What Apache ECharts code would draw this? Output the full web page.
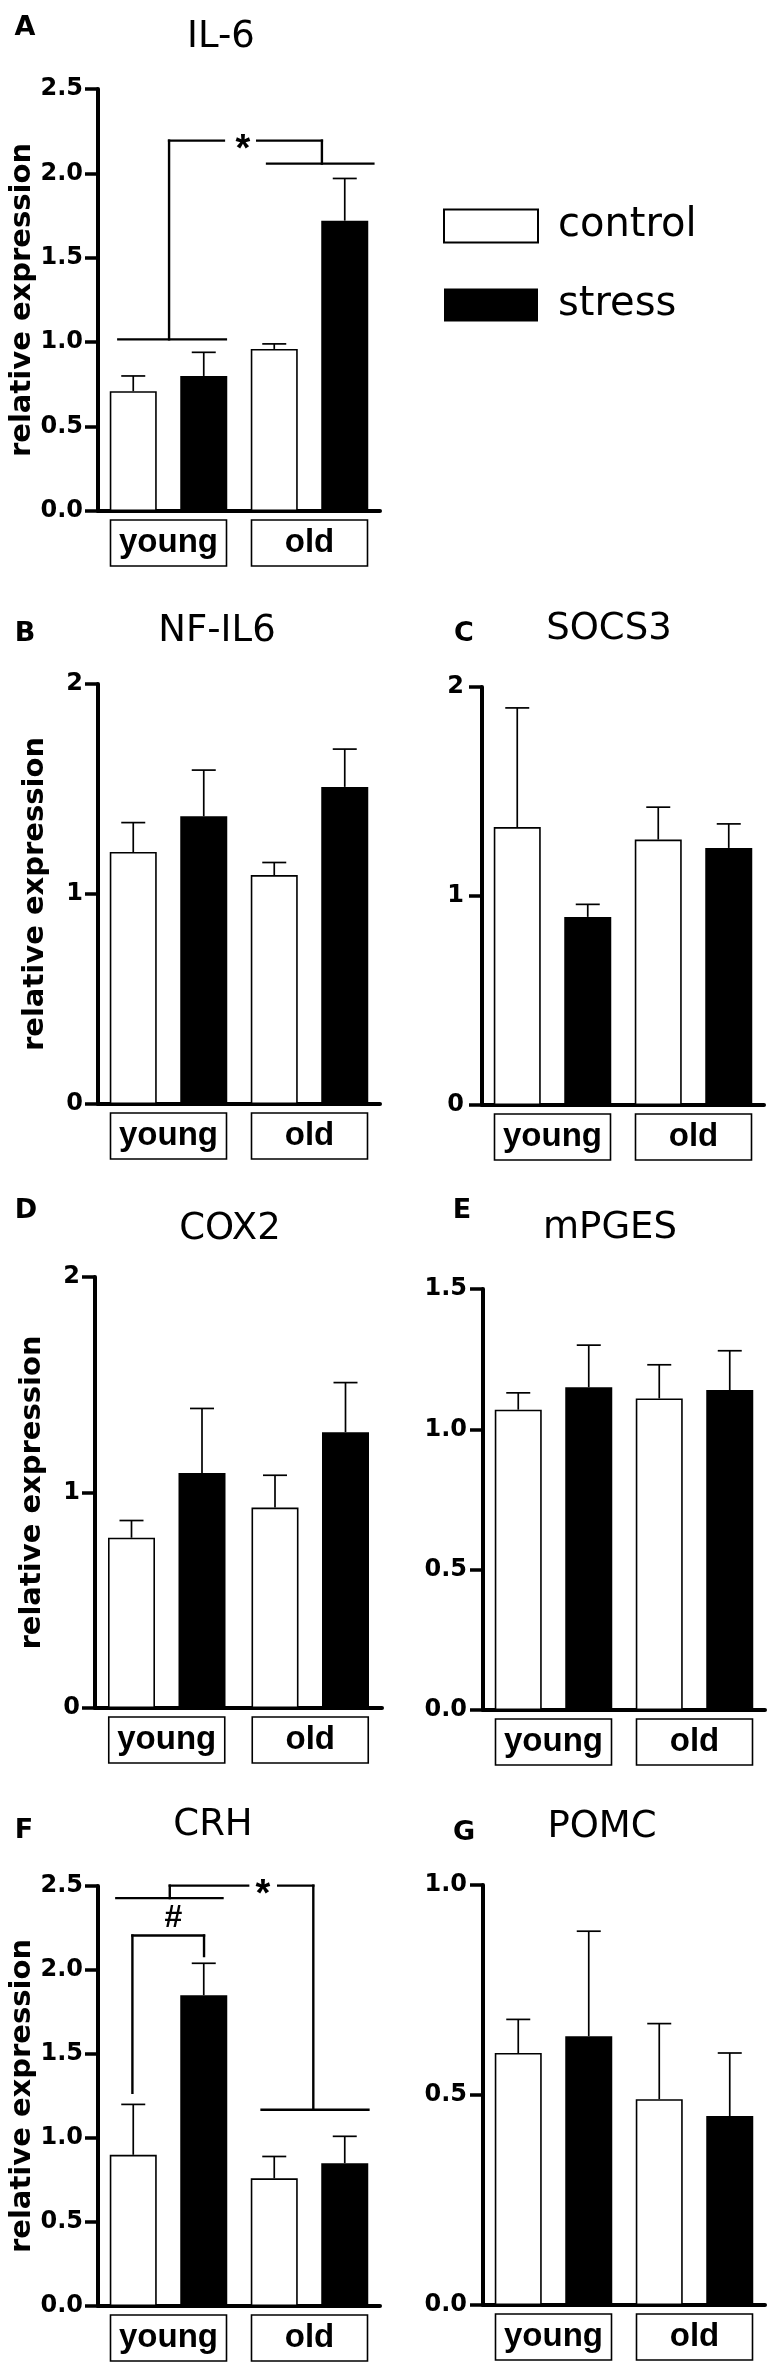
<!DOCTYPE html>
<html><head><meta charset="utf-8">
<script src="https://cdn.jsdelivr.net/npm/echarts@6/dist/echarts.min.js"></script>
<style>html,body{margin:0;padding:0;background:#fff}#c{width:778px;height:2374px}</style>
</head><body><div id="c"></div>
<script>
// ---------- DATA ----------
const groups = ['young', 'old'];
const seriesNames = ['control', 'stress'];

const il6Control = [0.71, 0.96];   const il6ControlErr = [0.09, 0.03];
const il6Stress  = [0.80, 1.72];   const il6StressErr  = [0.14, 0.25];
const il6Ticks = [0.0, 0.5, 1.0, 1.5, 2.0, 2.5];

const nfil6Control = [1.20, 1.09]; const nfil6ControlErr = [0.14, 0.06];
const nfil6Stress  = [1.37, 1.51]; const nfil6StressErr  = [0.22, 0.18];
const nfil6Ticks = [0, 1, 2];

const socs3Control = [1.33, 1.27]; const socs3ControlErr = [0.57, 0.155];
const socs3Stress  = [0.90, 1.23]; const socs3StressErr  = [0.06, 0.115];
const socs3Ticks = [0, 1, 2];

const cox2Control = [0.79, 0.93];  const cox2ControlErr = [0.08, 0.15];
const cox2Stress  = [1.09, 1.28];  const cox2StressErr  = [0.30, 0.23];
const cox2Ticks = [0, 1, 2];

const mpgesControl = [1.07, 1.11]; const mpgesControlErr = [0.06, 0.12];
const mpgesStress  = [1.15, 1.14]; const mpgesStressErr  = [0.15, 0.14];
const mpgesTicks = [0.0, 0.5, 1.0, 1.5];

const crhControl = [0.90, 0.76];   const crhControlErr = [0.30, 0.13];
const crhStress  = [1.85, 0.85];   const crhStressErr  = [0.19, 0.16];
const crhTicks = [0.0, 0.5, 1.0, 1.5, 2.0, 2.5];

const pomcControl = [0.60, 0.49];  const pomcControlErr = [0.08, 0.18];
const pomcStress  = [0.64, 0.45];  const pomcStressErr  = [0.25, 0.15];
const pomcTicks = [0.0, 0.5, 1.0];

// significance brackets: [x1, y1, x2, y2] in (group position, value) space
const il6Brackets = [
  [-0.356, 1.017, 0.407, 1.017], [0.004, 1.017, 0.004, 2.194],
  [0.004, 2.194, 0.393, 2.194], [0.629, 2.194, 1.088, 2.194],
  [1.088, 2.194, 1.088, 2.058], [0.699, 2.058, 1.453, 2.058]
];
const il6Marks = [[0.528, 2.194, '*']];
const crhBrackets = [
  [-0.256, 1.269, -0.256, 2.205], [-0.256, 2.205, 0.252, 2.205], [0.252, 2.205, 0.252, 2.083],
  [-0.37, 2.428, 0.383, 2.428], [0.009, 2.428, 0.009, 2.502],
  [0.009, 2.502, 0.565, 2.502], [0.778, 2.502, 1.027, 2.502],
  [1.027, 2.502, 1.027, 1.168], [0.66, 1.168, 1.418, 1.168]
];
const crhMarks = [[0.035, 2.308, '#'], [0.669, 2.502, '*']];

// ---------- PANELS ----------
const panels = [
  {letter:'A', title:'IL-6',   c:il6Control,   ce:il6ControlErr,   s:il6Stress,   se:il6StressErr,   ticks:il6Ticks,   dec:1, yName:true},
  {letter:'B', title:'NF-IL6', c:nfil6Control, ce:nfil6ControlErr, s:nfil6Stress, se:nfil6StressErr, ticks:nfil6Ticks, dec:0, yName:true},
  {letter:'C', title:'SOCS3',  c:socs3Control, ce:socs3ControlErr, s:socs3Stress, se:socs3StressErr, ticks:socs3Ticks, dec:0, yName:false},
  {letter:'D', title:'COX2',   c:cox2Control,  ce:cox2ControlErr,  s:cox2Stress,  se:cox2StressErr,  ticks:cox2Ticks,  dec:0, yName:true},
  {letter:'E', title:'mPGES',  c:mpgesControl, ce:mpgesControlErr, s:mpgesStress, se:mpgesStressErr, ticks:mpgesTicks, dec:1, yName:false},
  {letter:'F', title:'CRH',    c:crhControl,   ce:crhControlErr,   s:crhStress,   se:crhStressErr,   ticks:crhTicks,   dec:1, yName:true},
  {letter:'G', title:'POMC',   c:pomcControl,  ce:pomcControlErr,  s:pomcStress,  se:pomcStressErr,  ticks:pomcTicks,  dec:1, yName:false}
];

// ---------- LAYOUT (pixels) ----------
const layout = [
  {left:98,  top:89,   width:282, height:422, nameGap:56, lm:15, tx:221, ty:37,   lx:25,  ly:28},
  {left:98,  top:684,  width:282, height:420, nameGap:48, lm:15, tx:217, ty:631,  lx:25,  ly:634},
  {left:482, top:687,  width:282, height:418, nameGap:48, lm:18, tx:609, ty:629,  lx:464, ly:634},
  {left:95,  top:1277, width:287, height:431, nameGap:48, lm:15, tx:230, ty:1229, lx:26,  ly:1211},
  {left:483, top:1289, width:282, height:421, nameGap:48, lm:16, tx:610, ty:1228, lx:462, ly:1211},
  {left:98,  top:1886, width:282, height:420, nameGap:56, lm:15, tx:213, ty:1825, lx:24,  ly:1831},
  {left:483, top:1885, width:282, height:420, nameGap:48, lm:16, tx:602, ty:1827, lx:464, ly:1833}
];

const BAR_W = 47;
const BAR_GAP = 0.5;
const WIDE_FONT = 'DejaVu Sans';
const TEXT_FONT = 'Liberation Sans';

function errRender(sign) {
  return function (params, api) {
    const base = api.coord([api.value(0), api.value(1)]);
    const top = api.coord([api.value(0), api.value(1) + api.value(2)]);
    const x = base[0] + sign * BAR_W * (1 + BAR_GAP) / 2;
    return {type:'group', children:[
      {type:'line', shape:{x1:x, y1:base[1], x2:x, y2:top[1]}, style:{stroke:'#000', lineWidth:1.7}},
      {type:'line', shape:{x1:x - 12, y1:top[1], x2:x + 12, y2:top[1]}, style:{stroke:'#000', lineWidth:1.7}}
    ]};
  };
}
function bracketRender(params, api) {
  const p1 = api.coord([api.value(0), api.value(1)]);
  const p2 = api.coord([api.value(2), api.value(3)]);
  return {type:'line', shape:{x1:p1[0], y1:p1[1], x2:p2[0], y2:p2[1]},
          style:{stroke:'#000', lineWidth:2.4, lineCap:'square'}};
}
function markRender(params, api) {
  const p = api.coord([api.value(0), api.value(1)]);
  const t = api.value(2);
  const star = t === '*';
  return {type:'text', x:p[0], y:p[1] + (star ? 10 : 0),
          style:{text:t, fontFamily:TEXT_FONT, fontWeight:'bold', fontSize: star ? 38 : 32,
                 fill:'#000', align:'center', verticalAlign:'middle'}};
}

const grid = [], xAxis = [], yAxis = [], series = [], graphic = [];
panels.forEach(function (p, i) {
  const L = layout[i];
  grid.push({left:L.left, top:L.top, width:L.width, height:L.height, containLabel:false});
  xAxis.push({
    type:'category', gridIndex:i, data:groups,
    axisLine:{show:true, onZero:false, lineStyle:{color:'#000', width:4}},
    axisTick:{show:false}, splitLine:{show:false},
    axisLabel:{interval:0, margin:9, color:'#000', fontFamily:TEXT_FONT, fontWeight:'bold', fontSize:33,
               borderColor:'#000', borderWidth:1.6, width:116, height:46, lineHeight:46, align:'center'}
  });
  const tmin = p.ticks[0], tmax = p.ticks[p.ticks.length - 1];
  yAxis.push({
    type:'value', gridIndex:i, min:tmin, max:tmax, interval:p.ticks[1] - p.ticks[0],
    axisLine:{show:true, onZero:false, lineStyle:{color:'#000', width:4}},
    axisTick:{show:true, length:13, lineStyle:{color:'#000', width:3.5}},
    splitLine:{show:false},
    axisLabel:{margin:L.lm, color:'#000', fontFamily:WIDE_FONT, fontWeight:'bold', fontSize:24,
               formatter:function (v) { return v.toFixed(p.dec); }},
    name: p.yName ? 'relative expression' : '',
    nameLocation:'middle', nameRotate:90, nameGap:L.nameGap,
    nameTextStyle:{color:'#000', fontFamily:WIDE_FONT, fontWeight:'bold', fontSize:29}
  });
  series.push({
    name:seriesNames[0], type:'bar', xAxisIndex:i, yAxisIndex:i, data:p.c,
    barWidth:BAR_W, barGap:(BAR_GAP * 100) + '%',
    itemStyle:{color:'#fff', borderColor:'#000', borderWidth:1.6}, z:2
  });
  series.push({
    name:seriesNames[1], type:'bar', xAxisIndex:i, yAxisIndex:i, data:p.s,
    barWidth:BAR_W, barGap:(BAR_GAP * 100) + '%',
    itemStyle:{color:'#000'}, z:2
  });
  series.push({
    type:'custom', xAxisIndex:i, yAxisIndex:i, renderItem:errRender(-1), z:3, silent:true,
    data:p.c.map(function (v, k) { return [k, v, p.ce[k]]; })
  });
  series.push({
    type:'custom', xAxisIndex:i, yAxisIndex:i, renderItem:errRender(1), z:3, silent:true,
    data:p.s.map(function (v, k) { return [k, v, p.se[k]]; })
  });
  graphic.push({type:'text', x:L.tx, y:L.ty, style:{text:p.title, fontFamily:WIDE_FONT, fontSize:37,
                fill:'#000', align:'center', verticalAlign:'middle'}});
  graphic.push({type:'text', x:L.lx, y:L.ly, style:{text:p.letter, fontFamily:WIDE_FONT, fontWeight:'bold', fontSize:27,
                fill:'#000', align:'center', verticalAlign:'middle'}});
});

// hidden value x-axes for bracket annotations (panels A and F)
[[0, il6Brackets, il6Marks], [5, crhBrackets, crhMarks]].forEach(function (a) {
  const gi = a[0];
  const xi = xAxis.length;
  xAxis.push({type:'value', gridIndex:gi, min:-0.5, max:1.5, show:false});
  series.push({type:'custom', xAxisIndex:xi, yAxisIndex:gi, renderItem:bracketRender, silent:true, z:4,
               encode:{x:[0, 2], y:[1, 3]}, data:a[1]});
  series.push({type:'custom', xAxisIndex:xi, yAxisIndex:gi, renderItem:markRender, silent:true, z:4,
               encode:{x:0, y:1}, dimensions:['x', 'y', {name:'t', type:'ordinal'}], data:a[2]});
});

const chart = echarts.init(document.getElementById('c'), null, {renderer:'canvas'});
chart.setOption({
  animation:false,
  backgroundColor:'#fff',
  grid:grid, xAxis:xAxis, yAxis:yAxis, series:series, graphic:graphic,
  legend:{
    orient:'vertical', left:443, top:202, padding:0, itemWidth:94, itemHeight:33, itemGap:31, selectedMode:false,
    textStyle:{fontFamily:WIDE_FONT, fontSize:40, color:'#000', lineHeight:48, padding:[0, 0, 0, 15]},
    data:[
      {name:'control', icon:'rect', itemStyle:{color:'#fff', borderColor:'#000', borderWidth:2}},
      {name:'stress', icon:'rect', itemStyle:{color:'#000', borderWidth:0}}
    ]
  }
});
</script></body></html>
